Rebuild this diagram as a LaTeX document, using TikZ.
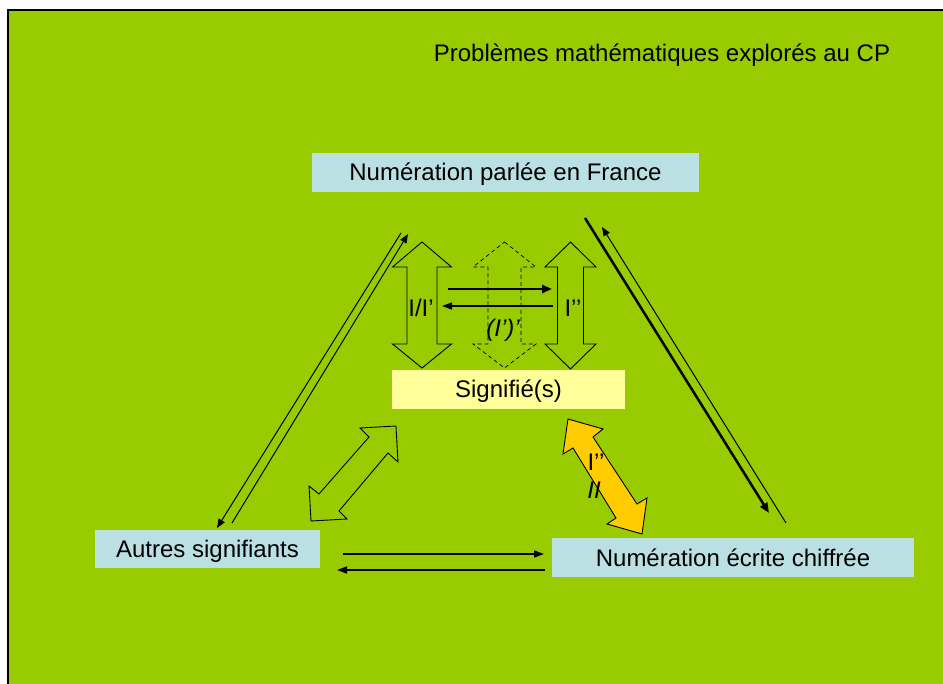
\documentclass[tikz,border=0pt]{standalone}
\usepackage{fontspec}
\setmainfont{Liberation Sans}
\usetikzlibrary{arrows.meta}
\definecolor{bggreen}{HTML}{99CC00}
\definecolor{boxblue}{HTML}{BBE0E3}
\definecolor{boxyellow}{HTML}{FFFF99}
\definecolor{arrorange}{HTML}{FFCC00}
\tikzset{
  txt/.style={inner sep=0pt, text height=17pt, text depth=0pt, font=\fontsize{24}{28}\selectfont},
  bluebox/.style={txt, fill=boxblue},
  yellowbox/.style={txt, fill=boxyellow},
  lbl/.style={txt},
  thinarr/.style={line width=1pt, -{Triangle[length=9pt,width=7pt]}},
  thickarr/.style={line width=2.5pt, -{Triangle[length=10pt,width=8pt]}},
  blockarr/.style={draw=black, line width=0.9pt, line join=miter},
}
\begin{document}
\begin{tikzpicture}[x=1pt,y=-1pt]
\useasboundingbox (0,0) rectangle (943,684);
\fill[white] (0,0) rectangle (943,684);
\fill[bggreen] (8,10) rectangle (943,684);
\draw[line width=1.5pt] (8,684) -- (8,10) -- (943,10);

% title
\node[lbl, anchor=center] (title) at (662,53) {Problèmes mathématiques explorés au CP};

% boxes
\node[bluebox, minimum width=387pt, minimum height=39pt] (parlee) at (505.5,172.5) {Numération parlée en France};
\node[yellowbox, minimum width=233pt, minimum height=39pt] (signifie) at (508.5,389.5) {Signifié(s)};
\node[bluebox, minimum width=225pt, minimum height=38pt] (autres) at (207.5,549) {Autres signifiants};
\node[bluebox, minimum width=362pt, minimum height=39pt] (ecrite) at (733,557.5) {Numération écrite chiffrée};

% coordinates for connector ends
\coordinate (L1a) at (401,233); \coordinate (L1b) at (217,528);
\coordinate (L2a) at (232,523); \coordinate (L2b) at (408,234);
\coordinate (R1a) at (585,218); \coordinate (R1b) at (769,513);
\coordinate (R2a) at (786,523); \coordinate (R2b) at (602,227);
\coordinate (B1a) at (343,554); \coordinate (B1b) at (544,554);
\coordinate (B2a) at (545,570); \coordinate (B2b) at (337,570);
\coordinate (H1a) at (448,289); \coordinate (H1b) at (552,289);
\coordinate (H2a) at (553,306); \coordinate (H2b) at (442,306);

% vertical block arrows
\draw[blockarr] (422,242) -- (451.5,267) -- (437,267) -- (437,344) -- (451.5,344) -- (422,368)
  -- (392.5,344) -- (407,344) -- (407,267) -- (392.5,267) -- cycle;
\draw[blockarr] (570.5,242) -- (596,267) -- (583.5,267) -- (583.5,344) -- (596,344) -- (570.5,369)
  -- (545,344) -- (557.5,344) -- (557.5,267) -- (545,267) -- cycle;
\draw[blockarr, line width=0.7pt, dash pattern=on 4pt off 3pt] (504.5,242) -- (536,267) -- (521,267) -- (521,344) -- (536,344) -- (504.5,368)
  -- (473,344) -- (488,344) -- (488,267) -- (473,267) -- cycle;

% horizontal arrows between block arrows
\draw[thickarr] (H1a) -- (H1b);
\draw[line width=1.5pt, -{Triangle[length=10pt,width=7pt]}] (H2a) -- (H2b);

% labels
\node[lbl] (l1) at (421,308) {I/I’};
\node[lbl] (l2) at (573,308) {I’’};
\node[lbl, font=\fontsize{24}{28}\selectfont\itshape] (l3) at (503,328) {(I’)’};

% diagonal outlined block arrow
\draw[blockarr] (396,426) -- (398,462) -- (388,453) -- (339,511) -- (347,519) -- (311,521)
  -- (309,486) -- (319,494) -- (369,437) -- (360,428) -- cycle;

% orange block arrow
\draw[blockarr, fill=arrorange] (568,419) -- (603,429) -- (593,437) -- (637,504) -- (647,498) -- (642,534)
  -- (607,524) -- (616,518) -- (573,448) -- (563,454) -- cycle;
\node[lbl] (l4) at (596,462) {I’’};
\node[lbl, font=\fontsize{24}{28}\selectfont\itshape] (l5) at (594,490) {II};

% long diagonal connectors
\draw[thinarr] (L1a) -- (L1b);
\draw[thinarr] (L2a) -- (L2b);
\draw[thickarr] (R1a) -- (R1b);
\draw[thinarr] (R2a) -- (R2b);

% bottom connectors
\draw[line width=1.3pt, -{Triangle[length=10pt,width=7pt]}] (B1a) -- (B1b);
\draw[line width=1.3pt, -{Triangle[length=10pt,width=7pt]}] (B2a) -- (B2b);
\end{tikzpicture}
\end{document}
